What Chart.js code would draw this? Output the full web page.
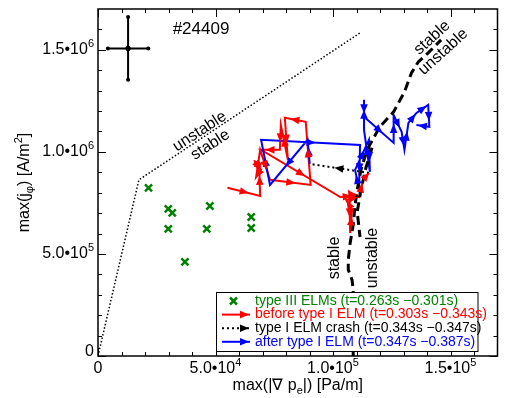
<!DOCTYPE html>
<html>
<head>
<meta charset="utf-8">
<script src="https://cdn.jsdelivr.net/npm/chart.js@4.4.0/dist/chart.umd.min.js"></script>
<style>
html, body { margin: 0; padding: 0; background: #fff; }
#wrap { width: 505px; height: 398px; }
</style>
</head>
<body>
<div id="wrap"><canvas id="chartELM" width="505" height="398"></canvas></div>
<script>
// #24409 : max(j_phi) vs max(grad pe) during the ELM cycle
const typeIIIX = [2.15e4, 2.99e4, 3.16e4, 2.99e4, 3.70e4, 4.76e4, 4.63e4, 6.52e4, 6.52e4];
const typeIIIY = [8.24e5, 7.21e5, 7.01e5, 6.23e5, 4.61e5, 7.35e5, 6.23e5, 6.81e5, 6.27e5];

const beforeX = [5.51e4, 6.90e4, 6.86e4, 6.65e4, 6.94e4, 6.73e4, 6.90e4, 7.32e4, 9.05e4, 8.84e4, 7.95e4, 8.08e4,
                 7.78e4, 7.74e4, 6.94e4, 1.031e5, 1.086e5, 1.069e5, 1.073e5, 1.081e5, 1.056e5, 1.111e5, 1.128e5, 1.153e5];
const beforeY = [8.24e5, 7.84e5, 9.31e5, 9.56e5, 9.12e5, 8.77e5, 1.010e6, 8.63e5, 8.38e5, 1.147e6, 1.167e6, 9.61e5,
                 1.132e6, 1.010e6, 1.010e6, 7.79e5, 7.84e5, 8.04e5, 6.03e5, 7.16e5, 7.65e5, 7.79e5, 8.63e5, 8.97e5];

const crashX = [1.153e5, 9.01e4];
const crashY = [8.97e5, 9.41e5];

const afterX = [9.01e4, 8.92e4, 7.32e4, 6.94e4, 1.115e5, 1.111e5, 1.094e5, 1.153e5, 1.157e5, 1.132e5, 1.132e5, 1.132e5,
                1.258e5, 1.258e5, 1.292e5, 1.304e5, 1.321e5, 1.355e5, 1.405e5, 1.410e5, 1.355e5];
const afterY = [9.41e5, 1.059e6, 8.38e5, 1.059e6, 1.034e6, 8.14e5, 9.12e5, 1.059e6, 9.02e5, 1.108e6, 1.255e6, 1.172e6,
                1.044e6, 1.181e6, 1.098e6, 1.010e6, 1.142e6, 1.191e6, 1.230e6, 1.123e6, 1.132e6];

// stability boundaries
const peelingX = [0, 1.74e4, 1.115e5];
const peelingY = [0, 8.63e5, 1.583e6];
const ballooningX = [1.086e5, 1.086e5, 1.081e5, 1.065e5, 1.065e5, 1.073e5, 1.086e5, 1.094e5, 1.103e5, 1.119e5,
                     1.145e5, 1.199e5, 1.258e5, 1.304e5, 1.334e5, 1.363e5, 1.405e5, 1.460e5];
const ballooningY = [0, 3.24e5, 3.73e5, 4.22e5, 4.71e5, 5.54e5, 6.42e5, 7.40e5, 8.14e5, 9.12e5,
                     1.010e6, 1.123e6, 1.196e6, 1.294e6, 1.387e6, 1.441e6, 1.485e6, 1.549e6];
const branchX = [1.166e5, 1.140e5, 1.119e5, 1.103e5, 1.115e5];
const branchY = [1.020e6, 9.22e5, 8.14e5, 7.06e5, 5.83e5];

// error bar
const errX = 1.28e4, errY = 1.507e6, errDX = 8.6e3, errDY = 1.54e5;

const xTickValues = [0, 5e4, 1e5, 1.5e5];
const xTickLabels = ['0', '5.0•10^4', '1.0•10^5', '1.5•10^5'];
const yTickValues = [0, 5e5, 1e6, 1.5e6];
const yTickLabels = ['0', '5.0•10^5', '1.0•10^6', '1.5•10^6'];
const xMinor = [1e4, 2e4, 3e4, 4e4, 6e4, 7e4, 8e4, 9e4, 1.1e5, 1.2e5, 1.3e5, 1.4e5, 1.6e5];
const yMinor = [1e5, 2e5, 3e5, 4e5, 6e5, 7e5, 8e5, 9e5, 1.1e6, 1.2e6, 1.3e6, 1.4e6, 1.6e6];

// rotated region labels [text, x, y, angle deg]
const regionLabels = [
    ['unstable', 4.33e4, 1.100e6, -33],
    ['stable', 4.78e4, 1.034e6, -33],
    ['stable', 1.422e5, 1.559e6, -42],
    ['unstable', 1.469e5, 1.490e6, -42],
    ['stable', 1.006e5, 4.80e5, -90],
    ['unstable', 1.170e5, 4.80e5, -90]
];

const GREEN = '#008000', RED = '#ff0000', BLUE = '#0000ff';
const FONT = '"Liberation Sans", Arial, sans-serif';

const pts = (xs, ys) => xs.map((x, i) => ({ x: x, y: ys[i] }));

function richParts(str) {
    const parts = [];
    let buf = '';
    for (let i = 0; i < str.length; i++) {
        const c = str[i];
        if ((c === '^' || c === '_') && i + 1 < str.length) {
            if (buf) { parts.push({ t: buf, k: 0 }); buf = ''; }
            parts.push({ t: str[i + 1], k: c === '^' ? 1 : -1 });
            i++;
        } else {
            buf += c;
        }
    }
    if (buf) parts.push({ t: buf, k: 0 });
    return parts;
}

function drawRich(ctx, str, x, y, size, align, color) {
    const parts = richParts(str);
    const small = Math.round(size * 0.68);
    let total = 0;
    parts.forEach(p => {
        ctx.font = (p.k ? small : size) + 'px ' + FONT;
        p.w = ctx.measureText(p.t).width;
        total += p.w;
    });
    let cx = align === 'center' ? x - total / 2 : (align === 'right' ? x - total : x);
    ctx.textAlign = 'left';
    ctx.textBaseline = 'middle';
    ctx.fillStyle = color || '#000';
    parts.forEach(p => {
        ctx.font = (p.k ? small : size) + 'px ' + FONT;
        const dy = p.k === 1 ? -size * 0.38 : (p.k === -1 ? size * 0.3 : 0);
        ctx.fillText(p.t, cx, y + dy);
        cx += p.w;
    });
}

function arrowHead(ctx, x, y, ang, color) {
    ctx.save();
    ctx.translate(x, y);
    ctx.rotate(ang);
    ctx.fillStyle = color;
    ctx.beginPath();
    ctx.moveTo(5, 0);
    ctx.lineTo(-4, -3.8);
    ctx.lineTo(-4, 3.8);
    ctx.closePath();
    ctx.fill();
    ctx.restore();
}

const decorPlugin = {
    id: 'decor',
    afterDatasetsDraw(chart) {
        const ctx = chart.ctx;
        const a = chart.chartArea;
        ctx.save();
        ctx.beginPath();
        ctx.rect(a.left, a.top, a.right - a.left, a.bottom - a.top);
        ctx.clip();
        chart.data.datasets.forEach((ds, i) => {
            if (!ds.arrows) return;
            const el = chart.getDatasetMeta(i).data;
            for (let j = 1; j < el.length; j++) {
                const dx = el[j].x - el[j - 1].x, dy = el[j].y - el[j - 1].y;
                if (Math.abs(dx) + Math.abs(dy) < 1) continue;
                arrowHead(ctx, (el[j].x + el[j - 1].x) / 2, (el[j].y + el[j - 1].y) / 2, Math.atan2(dy, dx), ds.borderColor);
            }
        });
        ctx.restore();
    },
    afterDraw(chart) {
        const ctx = chart.ctx;
        const a = chart.chartArea;
        const xs = chart.scales.x, ys = chart.scales.y;
        ctx.save();

        // frame + inward ticks on all sides
        ctx.strokeStyle = '#000';
        ctx.lineWidth = 1.5;
        ctx.strokeRect(a.left, a.top, a.right - a.left, a.bottom - a.top);
        ctx.lineWidth = 1;
        const tickX = (v, len) => {
            const px = Math.round(xs.getPixelForValue(v)) + 0.5;
            ctx.beginPath();
            ctx.moveTo(px, a.bottom); ctx.lineTo(px, a.bottom - len);
            ctx.moveTo(px, a.top); ctx.lineTo(px, a.top + len);
            ctx.stroke();
        };
        const tickY = (v, len) => {
            const py = Math.round(ys.getPixelForValue(v)) + 0.5;
            ctx.beginPath();
            ctx.moveTo(a.left, py); ctx.lineTo(a.left + len, py);
            ctx.moveTo(a.right, py); ctx.lineTo(a.right - len, py);
            ctx.stroke();
        };
        xMinor.forEach(v => tickX(v, 4));
        xTickValues.forEach(v => tickX(v, 8));
        yMinor.forEach(v => tickY(v, 4));
        yTickValues.forEach(v => tickY(v, 8));

        // tick labels
        xTickValues.forEach((v, i) => drawRich(ctx, xTickLabels[i], xs.getPixelForValue(v), a.bottom + 13, 16, 'center'));
        yTickValues.forEach((v, i) => drawRich(ctx, yTickLabels[i], a.left - 4, ys.getPixelForValue(v) - (v === 0 ? 4 : 0), 16, 'right'));

        // axis titles
        drawRich(ctx, 'max(|∇ p_e|) [Pa/m]', (a.left + a.right) / 2, 386, 16, 'center');
        ctx.save();
        ctx.translate(25, (a.top + a.bottom) / 2);
        ctx.rotate(-Math.PI / 2);
        drawRich(ctx, 'max(j_φ) [A/m^2]', 0, 0, 16, 'center');
        ctx.restore();

        // shot number
        drawRich(ctx, '#24409', 201, 29, 17, 'center');

        // region labels
        regionLabels.forEach(r => {
            ctx.save();
            ctx.translate(xs.getPixelForValue(r[1]), ys.getPixelForValue(r[2]));
            ctx.rotate(r[3] * Math.PI / 180);
            drawRich(ctx, r[0], 0, 0, 16, 'center');
            ctx.restore();
        });

        // error bar
        const ex = xs.getPixelForValue(errX), ey = ys.getPixelForValue(errY);
        const ex0 = xs.getPixelForValue(errX - errDX), ex1 = xs.getPixelForValue(errX + errDX);
        const ey0 = ys.getPixelForValue(errY - errDY), ey1 = ys.getPixelForValue(errY + errDY);
        ctx.lineWidth = 2;
        ctx.beginPath();
        ctx.moveTo(ex0, ey); ctx.lineTo(ex1, ey);
        ctx.moveTo(ex, ey0); ctx.lineTo(ex, ey1);
        ctx.stroke();
        ctx.fillStyle = '#000';
        [[ex0, ey], [ex1, ey], [ex, ey0], [ex, ey1]].forEach(p => {
            ctx.beginPath(); ctx.arc(p[0], p[1], 2, 0, Math.PI * 2); ctx.fill();
        });
        ctx.beginPath(); ctx.arc(ex, ey, 2.6, 0, Math.PI * 2); ctx.fill();

        // legend
        const lx = 216.5, ly = 292.5, lw = 261.5, lh = 59;
        ctx.fillStyle = '#fff';
        ctx.fillRect(lx, ly, lw, lh);
        ctx.strokeStyle = '#000';
        ctx.lineWidth = 1;
        ctx.strokeRect(lx, ly, lw, lh);
        const items = chart.data.datasets.filter(d => d.legendRank).sort((p, q) => p.legendRank - q.legendRank);
        items.forEach((d, i) => {
            const y = 301 + i * 13.6;
            const col = d.borderColor;
            if (d.showLine) {
                ctx.strokeStyle = col;
                ctx.lineWidth = 2;
                ctx.setLineDash(d.borderDash || []);
                ctx.beginPath(); ctx.moveTo(222, y); ctx.lineTo(250, y); ctx.stroke();
                ctx.setLineDash([]);
                arrowHead(ctx, 244, y, 0, col);
            } else {
                ctx.strokeStyle = col;
                ctx.lineWidth = 2.5;
                ctx.beginPath();
                ctx.moveTo(230, y - 3.5); ctx.lineTo(237, y + 3.5);
                ctx.moveTo(237, y - 3.5); ctx.lineTo(230, y + 3.5);
                ctx.stroke();
            }
            drawRich(ctx, d.label, 255, y, 14, 'left', col);
        });
        ctx.restore();
    }
};

const ctxELM = document.getElementById('chartELM').getContext('2d');
const chartELM = new Chart(ctxELM, {
    type: 'scatter',
    data: {
        datasets: [
            { label: 'ballooning', data: pts(ballooningX, ballooningY), showLine: true, borderColor: '#000',
              borderWidth: 3, borderDash: [9, 5], pointRadius: 0, order: 0 },
            { label: 'ballooning branch', data: pts(branchX, branchY), showLine: true, borderColor: '#000',
              borderWidth: 3, borderDash: [9, 5], pointRadius: 0, order: 0 },
            { label: 'type I ELM crash (t=0.343s −0.347s)', data: pts(crashX, crashY), showLine: true, borderColor: '#000',
              borderWidth: 2, borderDash: [2, 3], pointRadius: 0, arrows: true, legendRank: 3, order: 1 },
            { label: 'after type I ELM (t=0.347s −0.387s)', data: pts(afterX, afterY), showLine: true, borderColor: BLUE,
              borderWidth: 2, pointRadius: 0, arrows: true, legendRank: 4, order: 2 },
            { label: 'before type I ELM (t=0.303s −0.343s)', data: pts(beforeX, beforeY), showLine: true, borderColor: RED,
              borderWidth: 2, pointRadius: 0, arrows: true, legendRank: 2, order: 3 },
            { label: 'type III ELMs (t=0.263s −0.301s)', data: pts(typeIIIX, typeIIIY), showLine: false, borderColor: GREEN,
              backgroundColor: GREEN, pointStyle: 'crossRot', pointRadius: 5, borderWidth: 2.5, legendRank: 1, order: 4 },
            { label: 'peeling', data: pts(peelingX, peelingY), showLine: true, borderColor: '#000',
              borderWidth: 1.5, borderDash: [1.5, 2], pointRadius: 0, order: 5 }
        ]
    },
    options: {
        responsive: false,
        animation: false,
        devicePixelRatio: 1,
        layout: { padding: { left: 98, right: 3, top: 9, bottom: 42 } },
        plugins: {
            legend: { display: false },
            tooltip: { enabled: false }
        },
        scales: {
            x: { type: 'linear', min: 0, max: 1.7e5, display: false },
            y: { type: 'linear', min: 0, max: 1.7e6, display: false }
        }
    },
    plugins: [decorPlugin]
});
</script>
</body>
</html>
